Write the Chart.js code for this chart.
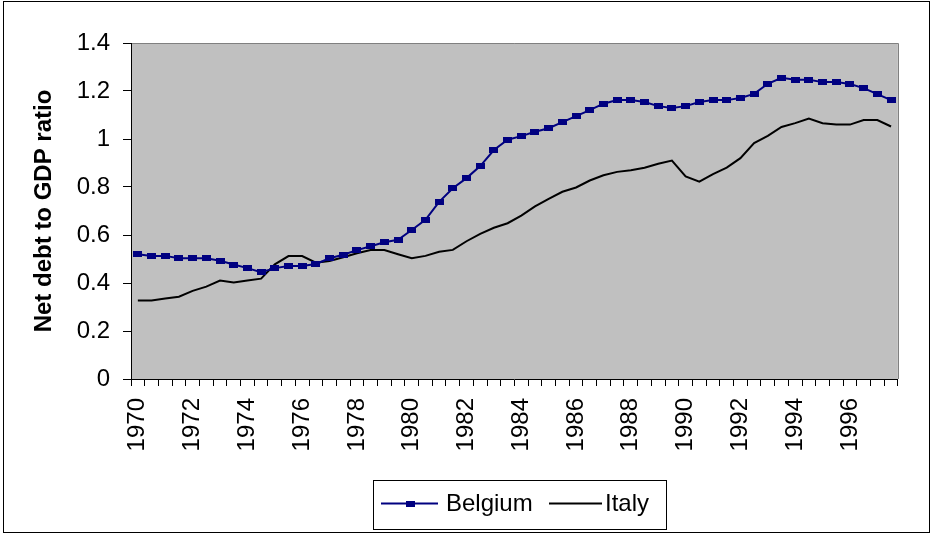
<!DOCTYPE html>
<html>
<head>
<meta charset="utf-8">
<script src="https://cdn.jsdelivr.net/npm/chart.js@4/dist/chart.umd.min.js"></script>
<style>
  html, body { margin: 0; padding: 0; background: #fff; }
  #wrap { width: 932px; height: 535px; position: relative; }
</style>
</head>
<body>
<div id="wrap"><canvas id="c" width="932" height="535"></canvas></div>
<script>
// ---- data ----
const categories = [
  '1970 H1','1970 H2','1971 H1','1971 H2','1972 H1','1972 H2','1973 H1','1973 H2',
  '1974 H1','1974 H2','1975 H1','1975 H2','1976 H1','1976 H2','1977 H1','1977 H2',
  '1978 H1','1978 H2','1979 H1','1979 H2','1980 H1','1980 H2','1981 H1','1981 H2',
  '1982 H1','1982 H2','1983 H1','1983 H2','1984 H1','1984 H2','1985 H1','1985 H2',
  '1986 H1','1986 H2','1987 H1','1987 H2','1988 H1','1988 H2','1989 H1','1989 H2',
  '1990 H1','1990 H2','1991 H1','1991 H2','1992 H1','1992 H2','1993 H1','1993 H2',
  '1994 H1','1994 H2','1995 H1','1995 H2','1996 H1','1996 H2','1997 H1','1997 H2'
];
const xTickLabels = ['1970','1972','1974','1976','1978','1980','1982','1984','1986','1988','1990','1992','1994','1996'];
const yTickValues = [0, 0.2, 0.4, 0.6, 0.8, 1, 1.2, 1.4];
const yTickLabels = ['0', '0.2', '0.4', '0.6', '0.8', '1', '1.2', '1.4'];
const belgium = [
  0.520,0.513,0.513,0.503,0.503,0.503,0.493,0.477,0.462,0.445,
  0.462,0.471,0.471,0.479,0.503,0.518,0.537,0.553,0.570,0.580,
  0.621,0.663,0.738,0.795,0.837,0.887,0.954,0.997,1.012,1.030,
  1.045,1.070,1.095,1.120,1.147,1.162,1.162,1.154,1.137,1.129,
  1.137,1.154,1.162,1.162,1.171,1.188,1.230,1.255,1.247,1.247,
  1.237,1.237,1.229,1.212,1.187,1.162
];
const italy = [
  0.327,0.327,0.335,0.343,0.367,0.385,0.410,0.402,0.410,0.418,
  0.478,0.512,0.512,0.485,0.492,0.507,0.524,0.537,0.537,0.520,
  0.503,0.513,0.530,0.538,0.574,0.605,0.630,0.649,0.681,0.719,
  0.751,0.780,0.798,0.827,0.849,0.863,0.870,0.880,0.897,0.910,
  0.844,0.822,0.854,0.881,0.920,0.983,1.013,1.050,1.066,1.085,
  1.066,1.060,1.060,1.079,1.079,1.052
];
const seriesNames = ['Belgium', 'Italy'];
const yTitle = 'Net debt to GDP ratio';

// ---- styles ----
const NAVY = '#000080';
const FONT = "'Liberation Sans', Arial, sans-serif";

function makeMarker(w, h, color) {
  const cv = document.createElement('canvas');
  cv.width = w; cv.height = h;
  const g = cv.getContext('2d');
  g.fillStyle = color;
  g.fillRect(0, 0, w, h);
  return cv;
}
const marker = makeMarker(9, 6, NAVY);

const backgroundPlugin = {
  id: 'bgPlot',
  beforeDraw(chart) {
    const {ctx, chartArea: a} = chart;
    ctx.save();
    ctx.fillStyle = '#fff';
    ctx.fillRect(0, 0, chart.width, chart.height);
    ctx.fillStyle = '#C0C0C0';
    ctx.fillRect(a.left, a.top, a.right - a.left, a.bottom - a.top);
    ctx.strokeStyle = '#808080';
    ctx.lineWidth = 1;
    ctx.beginPath();
    ctx.moveTo(a.left, Math.round(a.top) + 0.5);
    ctx.lineTo(Math.round(a.right) + 0.5, Math.round(a.top) + 0.5);
    ctx.lineTo(Math.round(a.right) + 0.5, a.bottom);
    ctx.stroke();
    ctx.restore();
  },
  afterDraw(chart) {
    const {ctx} = chart;
    ctx.save();
    // outer chart border
    ctx.strokeStyle = '#000';
    ctx.lineWidth = 1;
    ctx.strokeRect(3.5, 1.5, 926, 531);
    // legend
    ctx.strokeRect(373.5, 480.5, 293, 49);
    const cy = 503.5;
    const ds = chart.data.datasets;
    // Belgium sample
    ctx.strokeStyle = ds[0].borderColor;
    ctx.lineWidth = 2;
    ctx.beginPath(); ctx.moveTo(381, cy); ctx.lineTo(438, cy); ctx.stroke();
    ctx.drawImage(marker, 410 - 4.5, cy - 3);
    // Italy sample
    ctx.strokeStyle = ds[1].borderColor;
    ctx.beginPath(); ctx.moveTo(549, cy); ctx.lineTo(602, cy); ctx.stroke();
    ctx.fillStyle = '#000';
    ctx.font = '24px ' + FONT;
    ctx.textBaseline = 'alphabetic';
    ctx.textAlign = 'left';
    ctx.fillText(ds[0].label, 446, 511);
    ctx.fillText(ds[1].label, 605, 511);
    ctx.restore();
  }
};

new Chart(document.getElementById('c'), {
  type: 'line',
  data: {
    labels: categories,
    datasets: [
      {
        label: seriesNames[0],
        data: belgium,
        borderColor: NAVY,
        backgroundColor: NAVY,
        borderWidth: 2,
        pointStyle: marker,
        pointRadius: 4,
        pointHoverRadius: 4,
        tension: 0,
        fill: false
      },
      {
        label: seriesNames[1],
        data: italy,
        borderColor: '#000000',
        backgroundColor: '#000000',
        borderWidth: 2,
        pointRadius: 0,
        pointHoverRadius: 0,
        tension: 0,
        fill: false
      }
    ]
  },
  options: {
    responsive: false,
    animation: false,
    devicePixelRatio: 1,
    layout: { padding: { top: 43, right: 18, bottom: 10, left: 0 } },
    plugins: {
      legend: { display: false },
      tooltip: { enabled: false }
    },
    scales: {
      x: {
        type: 'category',
        offset: true,
        grid: {
          offset: true,
          drawOnChartArea: false,
          drawTicks: true,
          tickLength: 7,
          color: '#000',
          lineWidth: 1
        },
        border: { display: true, color: '#000', width: 1 },
        ticks: {
          autoSkip: false,
          minRotation: 90,
          maxRotation: 90,
          padding: 12,
          color: '#000',
          font: { family: FONT, size: 24 },
          callback: function(value, index) {
            const c = categories[index];
            const yr = c.slice(0, 4);
            return (c.endsWith('H1') && xTickLabels.includes(yr)) ? yr : '';
          }
        },
        afterFit(scale) { scale.height = 146; }
      },
      y: {
        min: 0,
        max: 1.4,
        grid: {
          drawOnChartArea: false,
          drawTicks: true,
          tickLength: 8,
          color: '#000',
          lineWidth: 1
        },
        border: { display: true, color: '#000', width: 1 },
        ticks: {
          padding: 13,
          color: '#000',
          font: { family: FONT, size: 24 },
          callback: function(value) {
            const i = yTickValues.findIndex(v => Math.abs(v - value) < 1e-9);
            return i >= 0 ? yTickLabels[i] : '';
          }
        },
        afterBuildTicks(scale) {
          scale.ticks = yTickValues.map(v => ({ value: v }));
        },
        title: {
          display: true,
          text: yTitle,
          color: '#000',
          font: { family: FONT, size: 24, weight: 'bold' },
          padding: { top: 30, bottom: 0 }
        },
        afterFit(scale) { scale.width = 131; }
      }
    }
  },
  plugins: [backgroundPlugin]
});
</script>
</body>
</html>
